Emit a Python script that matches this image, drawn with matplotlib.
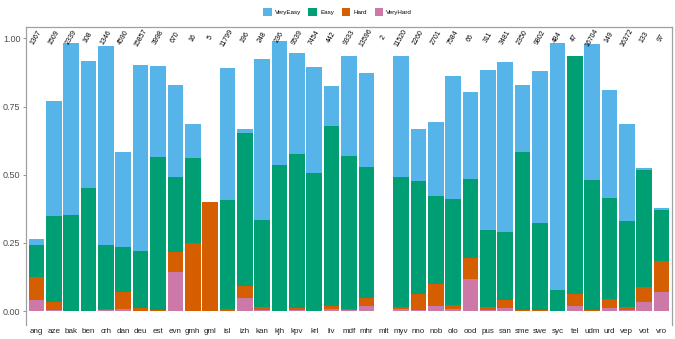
import matplotlib
matplotlib.use("Agg")
import matplotlib.pyplot as plt
from matplotlib.patches import Patch
import numpy as np

plt.rcParams["font.family"] = ["Liberation Sans", "DejaVu Sans"]

languages = ["ang", "aze", "bak", "ben", "crh", "dan", "deu", "est", "evn", "gmh", "gml", "isl",
             "izh", "kan", "kjh", "kpv", "krl", "liv", "mdf", "mhr", "mlt", "myv", "nno", "nob",
             "olo", "ood", "pus", "san", "sme", "swe", "syc", "tel", "udm", "urd", "vep", "vot", "vro"]
counts = ["1367", "1509", "2339", "108", "1346", "4590", "15857", "3998", "670", "16", "5", "11799",
          "196", "248", "236", "9539", "7454", "442", "9333", "13596", "2", "11520", "2260", "2701",
          "7584", "66", "311", "3481", "2350", "9802", "484", "47", "16704", "149", "16372", "133", "97"]

very_easy = [0.263, 0.770, 0.985, 0.916, 0.974, 0.583, 0.902, 0.900, 0.828, 0.686, 0.399, 0.892,
             0.666, 0.923, 0.990, 0.945, 0.895, 0.824, 0.934, 0.872, 0.0, 0.936, 0.666, 0.694,
             0.861, 0.802, 0.886, 0.912, 0.830, 0.881, 0.984, 0.935, 0.980, 0.810, 0.685, 0.523, 0.379]
easy = [0.242, 0.348, 0.352, 0.451, 0.241, 0.234, 0.220, 0.566, 0.490, 0.561, 0.399, 0.408,
        0.652, 0.333, 0.536, 0.575, 0.505, 0.677, 0.567, 0.529, 0.0, 0.493, 0.476, 0.422,
        0.410, 0.483, 0.297, 0.290, 0.582, 0.323, 0.076, 0.935, 0.480, 0.413, 0.330, 0.517, 0.369]
hard = [0.124, 0.034, 0.0, 0.0, 0.006, 0.071, 0.010, 0.004, 0.215, 0.248, 0.399, 0.007,
        0.093, 0.014, 0.0, 0.010, 0.002, 0.020, 0.009, 0.049, 0.0, 0.016, 0.062, 0.099,
        0.022, 0.194, 0.016, 0.040, 0.003, 0.003, 0.0, 0.061, 0.004, 0.044, 0.016, 0.088, 0.183]
very_hard = [0.040, 0.005, 0.0, 0.0, 0.003, 0.006, 0.002, 0.0, 0.144, 0.0, 0.0, 0.0,
             0.048, 0.004, 0.0, 0.005, 0.0, 0.008, 0.003, 0.018, 0.0, 0.006, 0.005, 0.018,
             0.006, 0.119, 0.003, 0.010, 0.0, 0.0, 0.0, 0.020, 0.0, 0.011, 0.004, 0.034, 0.070]

series = [("VeryEasy", very_easy, "#56B4E9"), ("Easy", easy, "#009E73"),
          ("Hard", hard, "#D55E00"), ("VeryHard", very_hard, "#CC79A7")]

fig = plt.figure(figsize=(6.75, 3.39), dpi=100)
ax = fig.add_axes([26 / 675, 14 / 339, (672 - 26) / 675, (325 - 26.7) / 339])

x = np.arange(len(languages))
for name, vals, col in series:
    ax.bar(x, vals, width=0.9, color=col, edgecolor="none", label=name)

for xi, c in zip(x, counts):
    ax.text(xi, 1.003, c, rotation=60, ha="center", va="center", fontsize=5, color="black")

ax.set_xlim(-0.6, len(languages) - 0.4)
ax.set_ylim(-0.051, 1.043)
ax.set_xticks(x)
ax.set_xticklabels(languages, fontsize=5.8, color="#222222")
ax.set_yticks([0, 0.25, 0.5, 0.75, 1.0])
ax.set_yticklabels(["0.00", "0.25", "0.50", "0.75", "1.00"], fontsize=6.5, color="#4d4d4d")
ax.tick_params(axis="x", length=0, pad=2)
ax.tick_params(axis="y", length=2.5, width=0.6, color="#7f7f7f", pad=1.5)
for s in ["left", "top", "right"]:
    ax.spines[s].set_color("#a0a0a0")
    ax.spines[s].set_linewidth(0.9)
ax.spines["bottom"].set_visible(False)

handles = [Patch(facecolor=col, edgecolor="none", label=name) for name, _, col in series]
fig.legend(handles=handles, loc="center", bbox_to_anchor=(0.5, 1 - 12 / 339), ncol=4,
           fontsize=4.5, frameon=False, handlelength=1.4, handleheight=1.4,
           columnspacing=1.2, handletextpad=0.5)

fig.savefig("out.png", dpi=100)
